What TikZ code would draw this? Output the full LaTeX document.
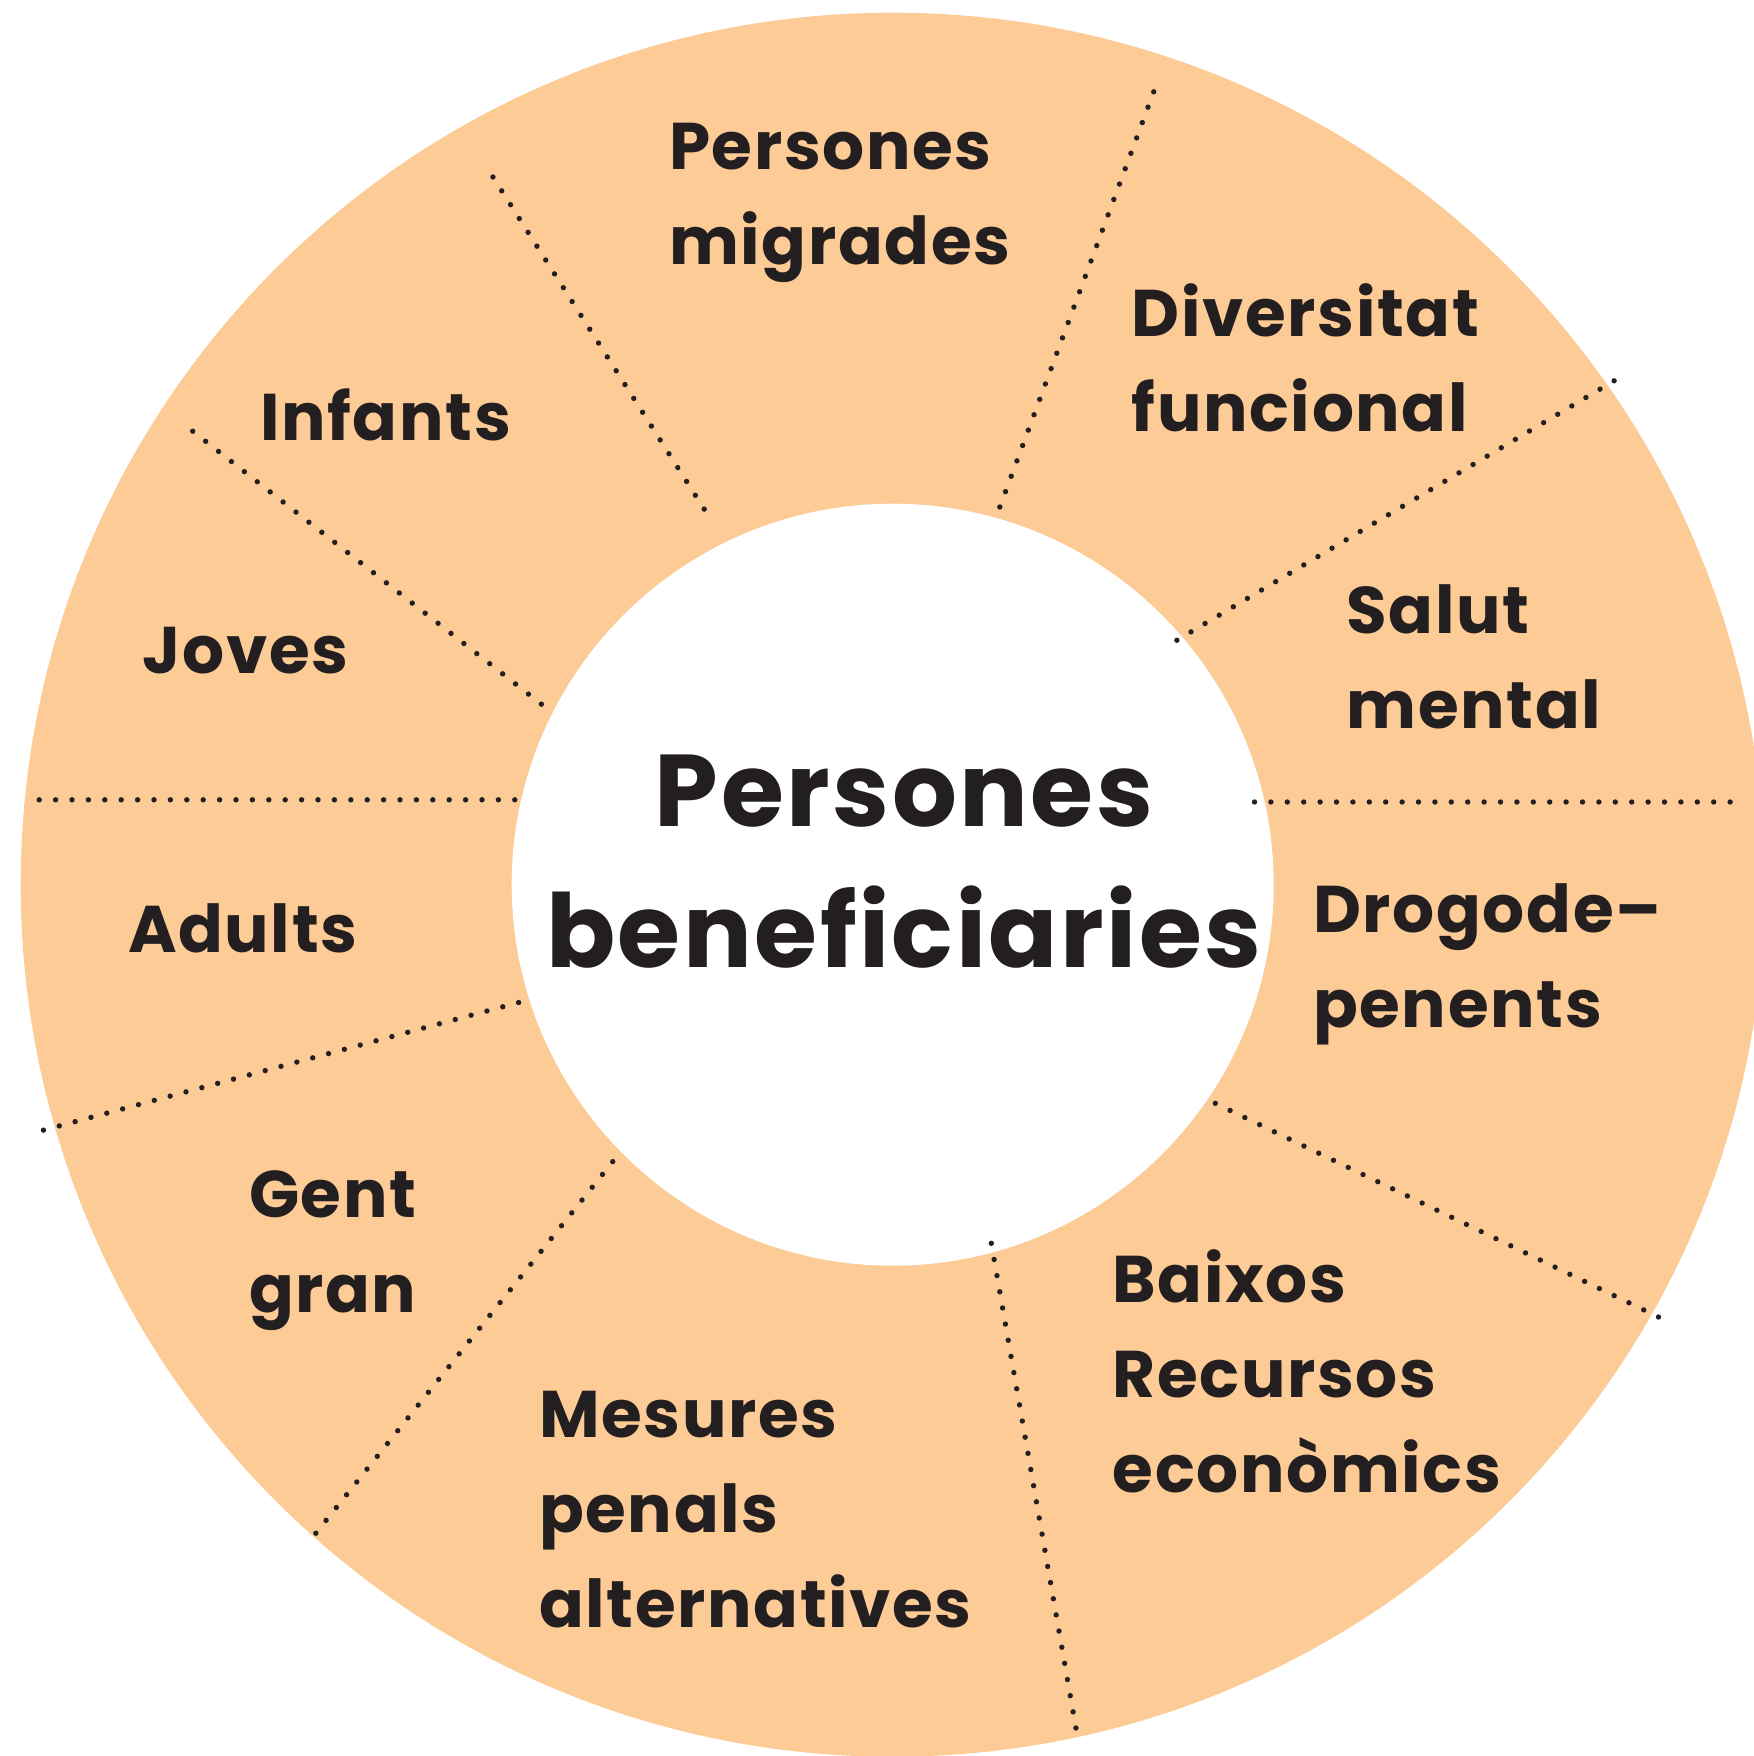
\documentclass[tikz,border=0pt]{standalone}
\usepackage{fontspec}
\setmainfont{Poppins}[LetterSpace=2.5]
\usepackage{xcolor}
\usepackage{tikz}
\definecolor{peach}{HTML}{FDCB96}
\definecolor{ink}{HTML}{231F20}
\tikzstyle{grp} = [anchor=base west, align=left, inner sep=0pt, text=ink, font=\bfseries\fontsize{33}{47.5}\selectfont]
\tikzstyle{hub} = [anchor=base, align=center, inner sep=0pt, text=ink, font=\bfseries\fontsize{51}{70.6}\selectfont]
\tikzstyle{divider} = [draw=ink, line width=2.7pt, line cap=round, dash pattern=on 0pt off 8.2pt]

\begin{document}
\begin{tikzpicture}[x=0.5pt,y=-0.5pt]
\useasboundingbox (0,0) rectangle (1753,1756);

\coordinate (c) at (892.7,884.7);
\fill [peach] (c) circle (872);
\fill [white] (c) circle (381);

% multi-line nodes sit on the baseline of their last line
\node [hub] (center) at (904,967.8) {Persones\\beneficiaries};

\node [grp] (migr) at (668.7,264.3) {Persones\\migrades};
\node [grp] (func) at (1131.3,431.2) {Diversitat\\funcional};
\node [grp] (inf) at (259.9,440.2) {Infants};
\node [grp] (salut) at (1346.4,728) {Salut\\mental};
\node [grp] (joves) at (142.3,673.2) {Joves};
\node [grp] (adults) at (127.7,952) {Adults};
\node [grp] (drog) at (1312.8,1027) {Drogode–\\penents};
\node [grp] (gent) at (248.7,1312.8) {Gent\\gran};
\node [grp] (baix) at (1112.3,1492) {Baixos\\Recursos\\econòmics};
\node [grp] (mes) at (538.8,1627.5) {Mesures\\penals\\alternatives};

%dotted dividers between the groups
\path [divider] (492.9,177.0) -- (712.4,522.0);
\path [divider] (1153.7,91.8) -- (994.7,520.8);
\path [divider] (1614.1,380.8) -- (1176.1,640.7);
\path [divider] (1254.5,802.0) -- (1744.0,802.0);
\path [divider] (1215.3,1103.3) -- (1658.9,1317.2);
\path [divider] (991.3,1243.3) -- (1078.7,1744.0);
\path [divider] (612.7,1161.6) -- (314.8,1534.5);
\path [divider] (518.6,1002.5) -- (39.2,1131.3);
\path [divider] (39.2,799.8) -- (515.3,799.8);
\path [divider] (192.7,431.2) -- (553.3,713.5);

\end{tikzpicture}
\end{document}
